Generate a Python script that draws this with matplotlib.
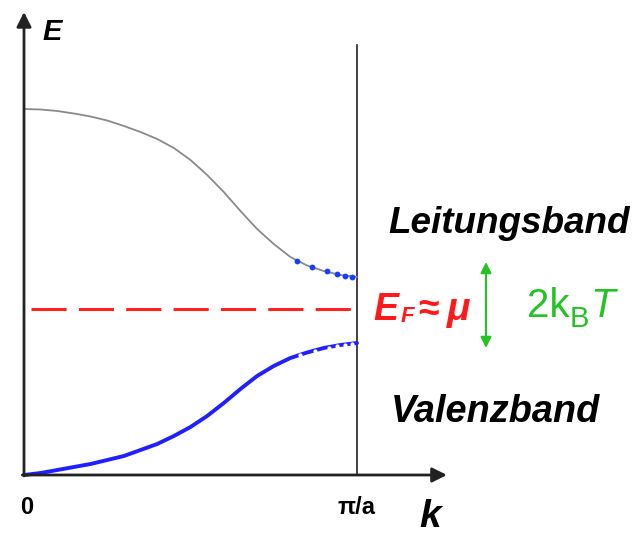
import matplotlib
matplotlib.use("Agg")
import matplotlib.pyplot as plt

# ---- data (k in units of pi/a, E in arbitrary units) ----
k_cond = [0.00, 0.05, 0.10, 0.15, 0.20, 0.25, 0.30, 0.35, 0.40, 0.45, 0.50,
          0.55, 0.60, 0.65, 0.70, 0.75, 0.80, 0.85, 0.90, 0.95, 1.00]
E_cond = [3.66, 3.655, 3.64, 3.615, 3.585, 3.545, 3.49, 3.43, 3.36, 3.27, 3.15,
          3.00, 2.83, 2.64, 2.46, 2.31, 2.18, 2.095, 2.04, 2.00, 1.98]

k_val = [0.00, 0.05, 0.10, 0.15, 0.20, 0.25, 0.30, 0.35, 0.40, 0.45, 0.50,
         0.55, 0.60, 0.65, 0.70, 0.75, 0.80, 0.85, 0.90, 0.95, 1.00]
E_val = [0.00, 0.02, 0.05, 0.08, 0.11, 0.15, 0.19, 0.25, 0.31, 0.39, 0.48,
         0.59, 0.72, 0.86, 0.99, 1.09, 1.17, 1.225, 1.27, 1.30, 1.32]

k_electrons = [0.820, 0.865, 0.910, 0.940, 0.964, 0.985]
E_electrons = [2.14, 2.075, 2.035, 2.01, 1.99, 1.98]

k_holes = [0.829, 0.874, 0.915, 0.940, 0.964, 0.985]
E_holes = [1.20, 1.245, 1.275, 1.29, 1.305, 1.315]

E_fermi = 1.66
k_zone = 1.0
E_axis_top = 4.63
k_axis_end = 1.27
E_zone_top = 4.30

tick_labels = ["0", "π/a"]

# ---- figure ----
W, H = 641, 535
fig = plt.figure(figsize=(W / 100, H / 100), dpi=100)
ax = fig.add_axes([0, 0, 1, 1])
ax.set_xlim(-24 / 333, (W - 24) / 333)
ax.set_ylim(-(H - 475) / 100, 475 / 100)
ax.axis("off")


def kx(px):
    return (px - 24) / 333


def ey(py):
    return (475 - py) / 100


axis_col = "#222222"
# axes arrows
ax.annotate("", xy=(0, E_axis_top), xytext=(0, -0.01),
            arrowprops=dict(arrowstyle="-|>", color=axis_col, lw=2.0,
                            mutation_scale=22, shrinkA=0, shrinkB=0))
ax.annotate("", xy=(k_axis_end, 0), xytext=(-0.005, 0),
            arrowprops=dict(arrowstyle="-|>", color=axis_col, lw=2.0,
                            mutation_scale=22, shrinkA=0, shrinkB=0))
# zone boundary
ax.plot([k_zone, k_zone], [0, E_zone_top], color=axis_col, lw=1.2)

# bands
ax.plot(k_cond, E_cond, color="#8a8a8a", lw=1.3, solid_capstyle="round",
        solid_joinstyle="round")
ax.plot(k_val, E_val, color="#2020ff", lw=2.8, solid_capstyle="round",
        solid_joinstyle="round")
ax.plot(k_electrons, E_electrons, "o", color="#1a3cff", ms=4.2, mec="none")
ax.plot(k_holes, E_holes, "o", color="white", ms=3.0, mec="none")

# Fermi level
ax.plot([0.02, k_zone], [E_fermi, E_fermi], color="#ff2020", lw=2.2,
        dashes=(11.5, 4.0))

# tick labels
fs = dict(family="Liberation Sans", weight="bold")
ax.text(kx(27), ey(507), tick_labels[0], ha="center", va="center",
        fontsize=17, **fs)
ax.text(kx(356), ey(507), tick_labels[1], ha="center", va="center",
        fontsize=17, **fs)
# axis labels
ax.text(kx(52), ey(32), "E", ha="center", va="center", fontsize=21,
        style="italic", **fs)
ax.text(kx(430), ey(517), "k", ha="center", va="center", fontsize=28,
        style="italic", **fs)

# band labels
ax.text(kx(388), ey(233), "Leitungsband", ha="left", va="baseline",
        fontsize=26.6, style="italic", **fs)
ax.text(kx(391), ey(422), "Valenzband", ha="left", va="baseline",
        fontsize=27.3, style="italic", **fs)

# E_F ≈ mu
red = "#ff1a1a"
ax.text(kx(373), ey(320), "E", ha="left", va="baseline", fontsize=27,
        style="italic", color=red, **fs)
ax.text(kx(401), ey(322), "F", ha="left", va="baseline", fontsize=16,
        style="italic", color=red, **fs)
ax.text(kx(418), ey(320), "≈", ha="left", va="baseline", fontsize=27,
        color=red, **fs)
ax.text(kx(447), ey(320), "μ", ha="left", va="baseline", fontsize=28,
        style="italic", color=red, **fs)

# 2 k_B T with double arrow
green = "#22c322"
ax.annotate("", xy=(kx(486), ey(348)), xytext=(kx(486), ey(262)),
            arrowprops=dict(arrowstyle="<|-|>", color=green, lw=1.5,
                            mutation_scale=16, shrinkA=0, shrinkB=0))
gs = dict(family="Liberation Sans", color=green)
t1 = ax.text(kx(527), ey(317), "2k", ha="left", va="baseline", fontsize=29,
             **gs)
fig.canvas.draw()
r = fig.canvas.get_renderer()
bb = t1.get_window_extent(r)
x_b = bb.x1 + 0
t2 = ax.text(x_b, H - 327, "B", ha="left", va="baseline", fontsize=21,
             transform=None, **gs)
bb2 = t2.get_window_extent(r)
ax.text(bb2.x1 + 2, H - 317, "T", ha="left", va="baseline", fontsize=29,
        style="italic", transform=None, **gs)

fig.savefig("out.png", dpi=100)
